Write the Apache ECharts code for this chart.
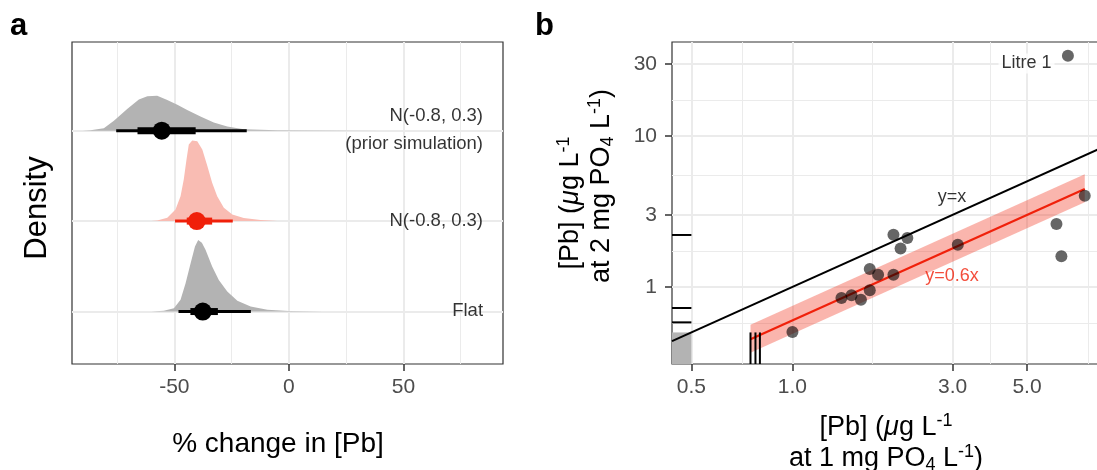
<!DOCTYPE html>
<html><head><meta charset="utf-8">
<script src="https://cdn.jsdelivr.net/npm/echarts@6/dist/echarts.min.js"></script>
<style>html,body{margin:0;padding:0;background:#fff}#c{width:1097px;height:470px}</style>
</head><body><div id="c"></div>
<script>
// ---------------- Panel a data ----------------
const rowNames = ['Flat', 'N(-0.8, 0.3)', 'N(-0.8, 0.3)\n(prior simulation)'];
const rowPos = [1, 2, 3];
const densFlat = [[-60,0],[-54.6,0.01],[-50.2,0.037],[-47.3,0.129],[-45.1,0.314],[-42.9,0.535],[-41.0,0.72],[-39.6,0.792],[-38.0,0.76],[-36.4,0.682],[-33.5,0.497],[-30.6,0.35],[-26.9,0.221],[-22.5,0.118],[-16.7,0.055],[-9.4,0.019],[0,0.006],[15,0.001],[25,0]];
const densNormal = [[-60,0],[-57.5,0.007],[-53.1,0.037],[-49.5,0.129],[-47.3,0.276],[-45.9,0.46],[-44.7,0.68],[-43.7,0.847],[-42.2,0.891],[-40.0,0.884],[-37.8,0.792],[-35.6,0.608],[-33.5,0.424],[-31.3,0.276],[-28.4,0.147],[-24.7,0.074],[-19.7,0.033],[-12.4,0.011],[-5,0.002],[5,0]];
const densPrior = [[-90,0],[-86.6,0.005],[-80.8,0.026],[-76.4,0.11],[-70.6,0.24],[-65.5,0.345],[-61.8,0.38],[-57.5,0.385],[-53.1,0.34],[-48.7,0.285],[-44.4,0.228],[-38.6,0.155],[-32.8,0.09],[-26.9,0.045],[-19.7,0.016],[-5.1,0.004],[20,0.001],[40,0]];
const medians = [-37.6, -40.2, -55.5];
const thickLo = [-43.0, -44.6, -66.1];
const thickHi = [-31.0, -33.5, -40.7];
const thinLo  = [-48.2, -49.7, -75.4];
const thinHi  = [-16.6, -24.5, -18.4];
const xTicksA = [-50, 0, 50];
const xMinorA = [-75, -25, 25, 75];
const xLimA = [-94.7, 93.5];
const yLimA = [0.42, 3.98];
const labelXA = 85;

// ---------------- Panel b data ----------------
const pbAt1 = [1.00, 1.40, 1.50, 1.60, 1.70, 1.70, 1.80, 2.00, 2.00, 2.10, 2.20, 3.11, 6.12, 6.33, 7.43, 6.62];
const pbAt2 = [0.503, 0.846, 0.88, 0.824, 0.95, 1.316, 1.206, 1.206, 2.22, 1.80, 2.11, 1.905, 2.61, 1.595, 4.02, 34.0];
const censoredYatX = [0.75, 0.776, 0.80];   // y below detection limit
const censoredXatY = [2.21, 0.726, 0.583];  // x below detection limit
const detLimit = 0.5;
const fitSlope = 0.6, fitLo = 0.49, fitHi = 0.75;
const fitRange = [0.75, 7.43];
const xTicksB = [0.5, 1, 3, 5];
const yTicksB = [1, 3, 10, 30];
const xMinorB = [0.707, 1.732, 3.873, 7.6];
const yMinorB = [0.577, 1.732, 5.477, 17.32];
const xLimB = [0.4377, 8.25];
const yLimB = [0.309, 41.9];

// ---------------- build ----------------
const L = Math.log10;
const FONT = '"Liberation Sans", Arial, Helvetica, sans-serif';
const RED = '#f0200a';
const RED_FILL = '#f9bcb3';
const GRAY_FILL = '#b3b3b3';
const rowColors = ['#000', RED, '#000'];
const rowFills = [GRAY_FILL, RED_FILL, GRAY_FILL];
const majorGrid = {show: true, lineStyle: {color: '#ebebeb', width: 2}};
const minorGrid = {show: true, lineStyle: {color: '#ebebeb', width: 1}};
const tickStyle = {show: true, length: 7, lineStyle: {color: '#333', width: 1.5}};
const tickLabel = {color: '#4d4d4d', fontSize: 21, fontFamily: FONT};
const noLine = {show: false, onZero: false};

function polygonSeries(xi, yi, pts, color, z) {
  return {type: 'custom', xAxisIndex: xi, yAxisIndex: yi, data: pts, z: z, silent: true,
    renderItem: (p, api) => {
      if (p.dataIndex !== 0) return null;
      return {type: 'polygon', shape: {points: pts.map(q => api.coord(q))}, style: {fill: color}};
    }};
}
function segmentSeries(xi, yi, segs, colors, width, z) {
  return {type: 'custom', xAxisIndex: xi, yAxisIndex: yi, data: segs, z: z, silent: true,
    renderItem: (p, api) => {
      const a = api.coord([api.value(0), api.value(1)]);
      const b = api.coord([api.value(2), api.value(3)]);
      return {type: 'line', shape: {x1: a[0], y1: a[1], x2: b[0], y2: b[1]},
        style: {stroke: colors[p.dataIndex % colors.length], lineWidth: width}};
    }};
}
function densPoly(d, base) {
  return [[d[0][0], base]].concat(d.map(q => [q[0], base + q[1]])).concat([[d[d.length-1][0], base]]);
}

const richName = {
  t: {fontSize: 27, fontFamily: FONT, color: '#000', lineHeight: 31},
  sh: {fontSize: 27, fontFamily: FONT, color: '#000', lineHeight: 31, padding: [0, 0, 0, 34]},
  mu: {fontSize: 27, fontFamily: FONT, color: '#000', fontStyle: 'italic', lineHeight: 31},
  sup: {fontSize: 18, fontFamily: FONT, color: '#000', verticalAlign: 'top'},
  sub: {fontSize: 18, fontFamily: FONT, color: '#000', verticalAlign: 'bottom'}
};
const xNameB = '{t|[Pb] (}{mu|μ}{t|g L}{sup|-1}\n{t|at 1 mg PO}{sub|4}{t| L}{sup|-1}{t|)}';
const yNameB = '{t|[Pb] (}{mu|μ}{t|g L}{sup|-1}\n{sh|at 2 mg PO}{sub|4}{t| L}{sup|-1}{t|)}';

const series = [];
// panel a densities
const dens = [densFlat, densNormal, densPrior];
dens.forEach((d, i) => series.push(polygonSeries(0, 0, densPoly(d, rowPos[i]), rowFills[i], 2)));
// intervals
series.push(segmentSeries(0, 0, rowPos.map((r, i) => [thinLo[i], r, thinHi[i], r]), rowColors, 3, 3));
series.push(segmentSeries(0, 0, rowPos.map((r, i) => [thickLo[i], r, thickHi[i], r]), rowColors, 7, 4));
series.push({type: 'scatter', xAxisIndex: 0, yAxisIndex: 0, z: 5, symbolSize: 18, silent: true,
  data: rowPos.map((r, i) => ({value: [medians[i], r], itemStyle: {color: rowColors[i], opacity: 1}}))});
series.push({type: 'scatter', xAxisIndex: 0, yAxisIndex: 0, z: 6, symbolSize: 1, silent: true,
  itemStyle: {color: 'transparent'},
  label: {show: true, position: [0, 0], align: 'right', verticalAlign: 'middle', fontSize: 18.5,
    fontFamily: FONT, color: '#000', lineHeight: 28, formatter: p => rowNames[p.dataIndex]},
  data: rowPos.map(r => [labelXA, r])});

// panel b
const lx0 = L(xLimB[0]), lx1 = L(xLimB[1]), ly0 = L(yLimB[0]), ly1 = L(yLimB[1]), ld = L(detLimit);
series.push(polygonSeries(2, 1, [[lx0, ly0], [ld, ly0], [ld, ld], [lx0, ld]], GRAY_FILL, 2));
series.push(polygonSeries(2, 1, [[L(fitRange[0]), L(fitRange[0]*fitLo)], [L(fitRange[1]), L(fitRange[1]*fitLo)],
  [L(fitRange[1]), L(fitRange[1]*fitHi)], [L(fitRange[0]), L(fitRange[0]*fitHi)]], 'rgba(242,60,40,0.38)', 2));
series.push({type: 'line', xAxisIndex: 2, yAxisIndex: 1, z: 3, symbol: 'none', silent: true,
  lineStyle: {color: '#000', width: 2}, data: [[lx0, lx0], [lx1, lx1]]});
series.push({type: 'line', xAxisIndex: 2, yAxisIndex: 1, z: 3, symbol: 'none', silent: true,
  lineStyle: {color: RED, width: 2.2}, data: fitRange.map(x => [L(x), L(x*fitSlope)])});
series.push(segmentSeries(2, 1, censoredYatX.map(x => [L(x), ly0, L(x), ld]), ['#000'], 2, 4));
series.push(segmentSeries(2, 1, censoredXatY.map(y => [lx0, L(y), ld, L(y)]), ['#000'], 2, 4));
series.push({type: 'scatter', xAxisIndex: 2, yAxisIndex: 1, z: 5, symbolSize: 12, silent: true,
  itemStyle: {color: 'rgba(0,0,0,0.75)'}, data: pbAt1.map((x, i) => [L(x), L(pbAt2[i])])});
series.push({type: 'scatter', xAxisIndex: 2, yAxisIndex: 1, z: 6, symbolSize: 1, silent: true,
  itemStyle: {color: 'transparent'},
  label: {show: true, position: [0, 0], align: 'center', verticalAlign: 'middle', fontSize: 18,
    fontFamily: FONT, formatter: p => p.data.txt, color: '#000'},
  data: [
    {value: [L(3), L(3.92)], txt: 'y=x'},
    {value: [L(3), L(1.175)], txt: 'y=0.6x', label: {color: RED}},
    {value: [L(5), L(30)], txt: 'Litre 1', label: {backgroundColor: '#fff', padding: [1, 3]}}
  ]});

const option = {
  animation: false,
  backgroundColor: '#fff',
  textStyle: {fontFamily: FONT},
  grid: [
    {left: 72, top: 42, width: 431, height: 322, show: true, borderColor: '#333', borderWidth: 1.2,
      backgroundColor: 'transparent', outerBoundsMode: 'none', containLabel: false},
    {left: 672, top: 42, width: 428, height: 322, show: true, borderColor: '#333', borderWidth: 1.2,
      backgroundColor: 'transparent', outerBoundsMode: 'none', containLabel: false}
  ],
  xAxis: [
    {gridIndex: 0, type: 'value', min: xLimA[0], max: xLimA[1], axisLine: noLine,
      axisTick: Object.assign({customValues: xTicksA}, tickStyle),
      axisLabel: Object.assign({customValues: xTicksA, margin: 13}, tickLabel),
      splitLine: majorGrid, name: '% change in [Pb]', nameLocation: 'middle', nameGap: 66,
      nameTextStyle: {fontSize: 28, color: '#000', fontFamily: FONT, padding: [0, 19, 0, 0]}},
    {gridIndex: 0, type: 'value', min: xLimA[0], max: xLimA[1], axisLine: noLine,
      axisTick: {show: false, customValues: xMinorA}, axisLabel: {show: false, customValues: xMinorA}, splitLine: minorGrid},
    {gridIndex: 1, type: 'value', min: lx0, max: lx1, axisLine: noLine,
      axisTick: Object.assign({customValues: xTicksB.map(L)}, tickStyle),
      axisLabel: Object.assign({customValues: xTicksB.map(L), margin: 13, formatter: v => Math.pow(10, v).toFixed(1)}, tickLabel),
      splitLine: majorGrid, name: xNameB, nameLocation: 'middle', nameGap: 48,
      nameTextStyle: {rich: richName}},
    {gridIndex: 1, type: 'value', min: lx0, max: lx1, axisLine: noLine,
      axisTick: {show: false, customValues: xMinorB.map(L)}, axisLabel: {show: false, customValues: xMinorB.map(L)}, splitLine: minorGrid}
  ],
  yAxis: [
    {gridIndex: 0, type: 'value', min: yLimA[0], max: yLimA[1], axisLine: noLine,
      axisTick: {show: false, customValues: rowPos}, axisLabel: {show: false, customValues: rowPos},
      splitLine: majorGrid, name: 'Density', nameLocation: 'middle', nameGap: 19, nameRotate: 90,
      nameTextStyle: {fontSize: 31, color: '#000', fontFamily: FONT, padding: [0, 10, 0, 0]}},
    {gridIndex: 1, type: 'value', min: ly0, max: ly1, axisLine: noLine,
      axisTick: Object.assign({customValues: yTicksB.map(L)}, tickStyle),
      axisLabel: Object.assign({customValues: yTicksB.map(L), margin: 15, formatter: v => String(Math.round(Math.pow(10, v)))}, tickLabel),
      splitLine: majorGrid, name: yNameB, nameLocation: 'middle', nameGap: 55, nameRotate: 90,
      nameTextStyle: {rich: richName}},
    {gridIndex: 1, type: 'value', min: ly0, max: ly1, axisLine: noLine,
      axisTick: {show: false, customValues: yMinorB.map(L)}, axisLabel: {show: false, customValues: yMinorB.map(L)}, splitLine: minorGrid}
  ],
  graphic: [
    {type: 'text', left: 10, top: 11, style: {text: 'a', font: 'bold 31px ' + FONT, fill: '#000'}},
    {type: 'text', left: 535, top: 11, style: {text: 'b', font: 'bold 31px ' + FONT, fill: '#000'}}
  ],
  series: series
};
const chart = echarts.init(document.getElementById('c'));
chart.setOption(option);
</script></body></html>
